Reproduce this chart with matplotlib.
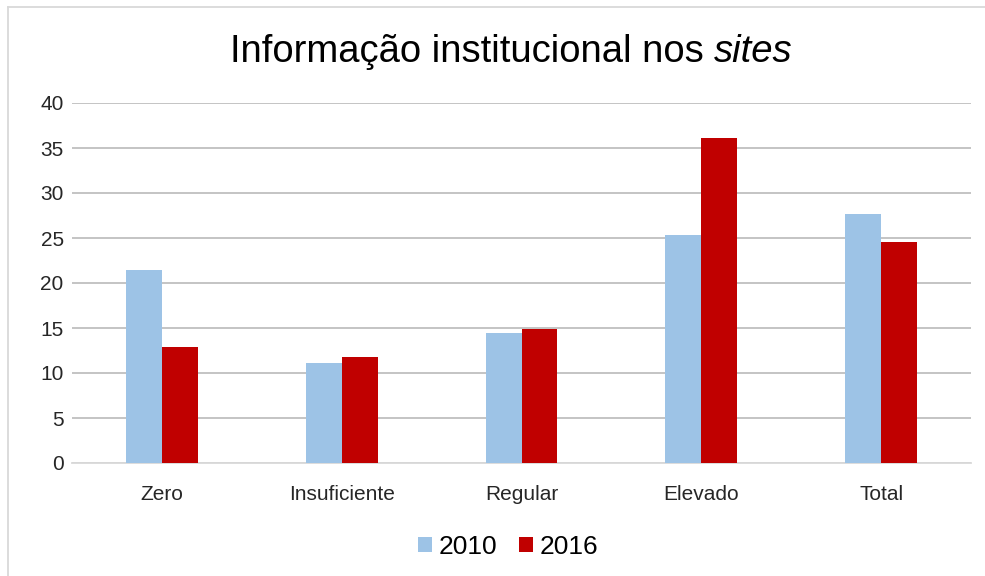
import numpy as np
import matplotlib.pyplot as plt
from matplotlib.lines import Line2D

plt.rcParams['font.family'] = ['Liberation Sans', 'DejaVu Sans']

categories = ['Zero', 'Insuficiente', 'Regular', 'Elevado', 'Total']
values_2010 = [21.5, 11.1, 14.45, 25.3, 27.7]
values_2016 = [12.9, 11.8, 14.9, 36.1, 24.6]
series_labels = ['2010', '2016']

c2010 = '#9DC3E6'
c2016 = '#C00000'

fig = plt.figure(figsize=(9.85, 5.76), dpi=100)
ax = fig.add_axes([72 / 985, 1 - 463 / 576, 899 / 985, 360 / 576])

x = np.arange(len(categories))
w = 0.2
ax.bar(x - w / 2, values_2010, w, color=c2010, label=series_labels[0], zorder=3)
ax.bar(x + w / 2, values_2016, w, color=c2016, label=series_labels[1], zorder=3)

ax.set_xlim(-0.5, len(categories) - 0.5)
ax.set_ylim(0, 40)
ax.set_yticks(range(0, 41, 5))
ax.set_xticks(x)
ax.set_xticklabels(categories)
ax.tick_params(axis='both', length=0, labelsize=15, colors='#262626')
ax.tick_params(axis='y', pad=6)
ax.tick_params(axis='x', pad=16)
ax.yaxis.grid(True, color='#BFBFBF', linewidth=1.3, zorder=0)
for s in ['top', 'right', 'left']:
    ax.spines[s].set_visible(False)
ax.spines['bottom'].set_color('#D9D9D9')
ax.spines['bottom'].set_linewidth(1.3)
ax.spines['bottom'].set_zorder(2)

title_y = 1 - 52 / 576
fig.text(714 / 985, title_y, 'Informação institucional nos ', ha='right', va='center',
         fontsize=27.5, color='#000000')
fig.text(714 / 985, title_y, 'sites', ha='left', va='center',
         fontsize=27.5, style='italic', color='#000000')

ax.legend(loc='center', bbox_to_anchor=(508 / 985, 1 - 547 / 576), bbox_transform=fig.transFigure,
          ncol=2, frameon=False, fontsize=19, handlelength=0.53, handleheight=0.53,
          handletextpad=0.25, columnspacing=0.8, borderpad=0)

# chart border
fig.add_artist(Line2D([8 / 985, 8 / 985], [0, 1 - 7 / 576], color='#D9D9D9', lw=1.3))
fig.add_artist(Line2D([8 / 985, 1], [1 - 7 / 576, 1 - 7 / 576], color='#D9D9D9', lw=1.3))

fig.savefig('out.png', dpi=100)
